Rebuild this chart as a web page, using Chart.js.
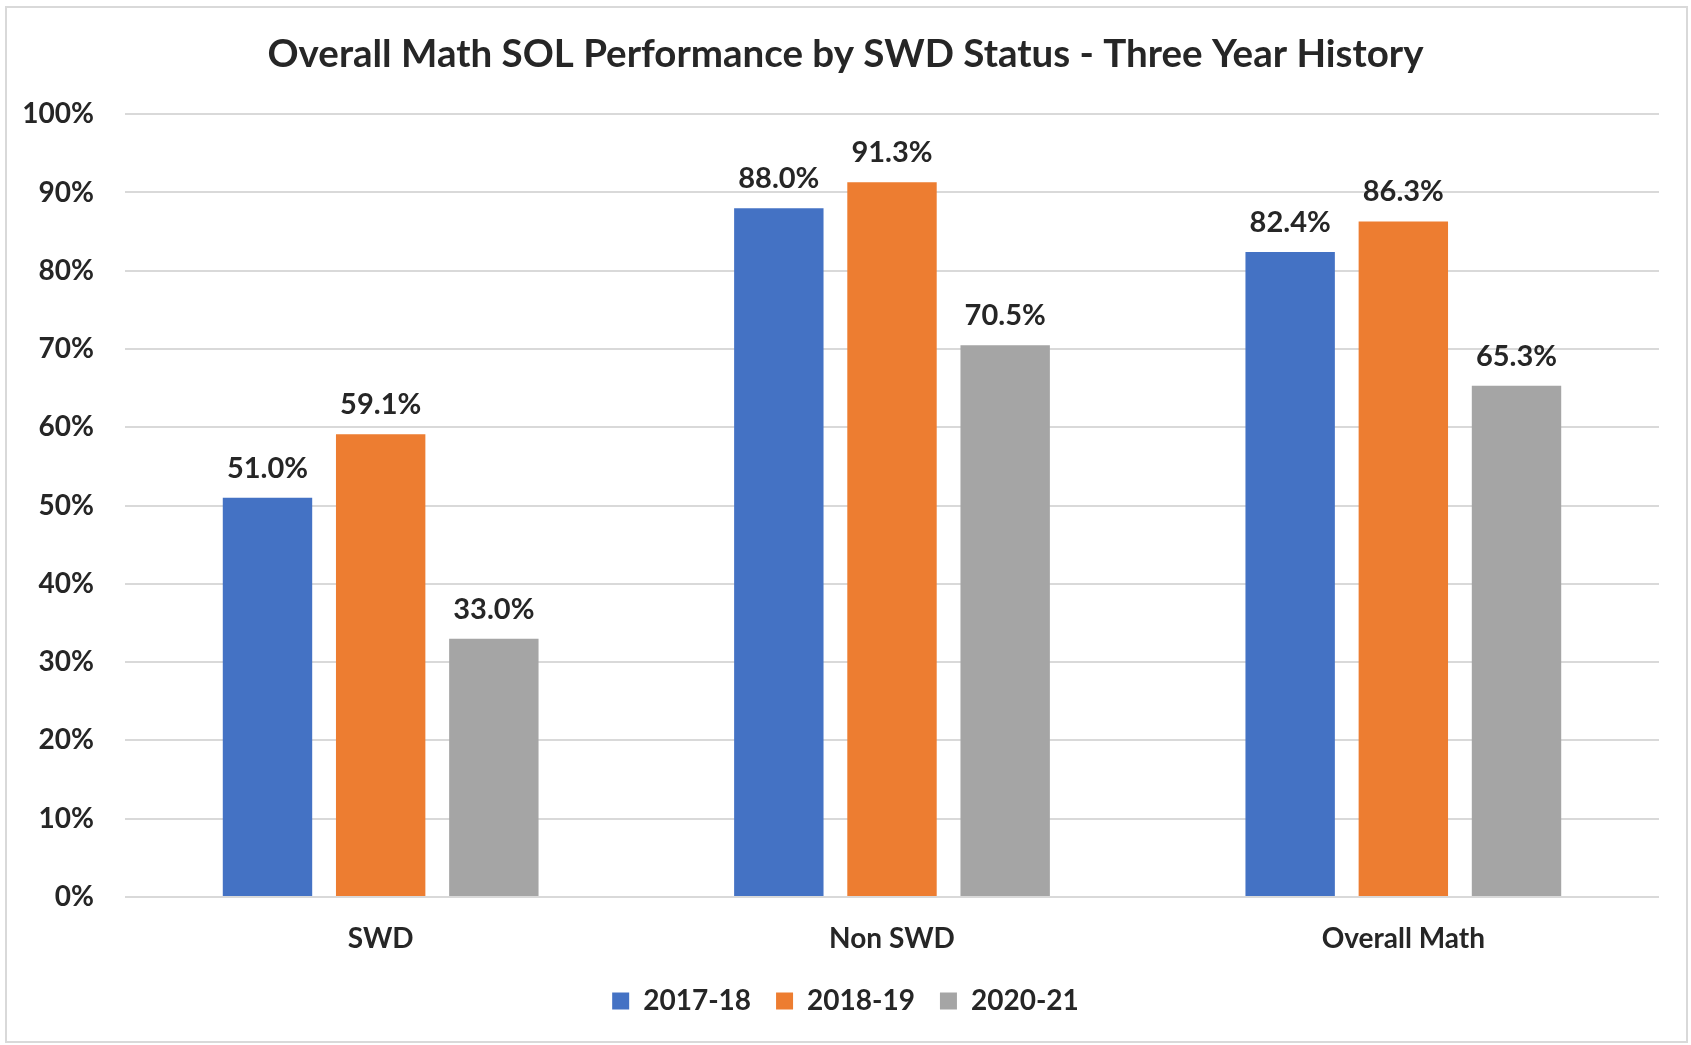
<!DOCTYPE html>
<html lang="en">
<head>
    <meta charset="UTF-8">
    <title>Overall Math SOL Performance by SWD Status</title>
    <script src="https://cdn.jsdelivr.net/npm/chart.js"></script>
    <style>
        html, body { margin: 0; padding: 0; background: #fff; }
        #wrap { width: 1691px; height: 1045px; }
    </style>
</head>
<body>
    <div id="wrap"><canvas id="solChart" width="1691" height="1045"></canvas></div>

    <script>
        // data
        const categories = ["SWD", "Non SWD", "Overall Math"];
        const years = ["2017-18", "2018-19", "2020-21"];
        const pct1718 = [51.0, 88.0, 82.4];
        const pct1819 = [59.1, 91.3, 86.3];
        const pct2021 = [33.0, 70.5, 65.3];
        const yTicks = [0, 10, 20, 30, 40, 50, 60, 70, 80, 90, 100];

        const colors = ["#4472C4", "#ED7D31", "#A5A5A5"];
        const textColor = "#262626";
        const fontFamily = "Lato, 'Open Sans', sans-serif";

        // white background + thin grey frame around the whole chart
        const framePlugin = {
            id: "frame",
            beforeDraw(chart) {
                const c = chart.ctx;
                c.save();
                c.fillStyle = "#fff";
                c.fillRect(0, 0, chart.width, chart.height);
                c.strokeStyle = "#d9d9d9";
                c.lineWidth = 2;
                c.strokeRect(6, 7, 1681, 1035);
                c.restore();
            }
        };

        // value labels above each bar
        const valueLabels = {
            id: "valueLabels",
            afterDatasetsDraw(chart) {
                const c = chart.ctx;
                c.save();
                c.font = "bold 29px " + fontFamily;
                c.fillStyle = textColor;
                c.textAlign = "center";
                c.textBaseline = "alphabetic";
                chart.data.datasets.forEach((ds, i) => {
                    chart.getDatasetMeta(i).data.forEach((bar, j) => {
                        c.fillText(ds.data[j].toFixed(1) + "%", bar.x, bar.y - 20);
                    });
                });
                c.restore();
            }
        };

        const ctx = document.getElementById("solChart").getContext("2d");
        const solChart = new Chart(ctx, {
            type: "bar",
            data: {
                labels: categories,
                datasets: [
                    { label: years[0], data: pct1718, backgroundColor: colors[0] },
                    { label: years[1], data: pct1819, backgroundColor: colors[1] },
                    { label: years[2], data: pct2021, backgroundColor: colors[2] }
                ]
            },
            options: {
                responsive: false,
                animation: false,
                devicePixelRatio: 1,
                layout: { padding: { left: 0, right: 0, top: 0, bottom: 20 } },
                datasets: {
                    bar: { categoryPercentage: 0.664, barPercentage: 0.79 }
                },
                plugins: {
                    title: {
                        display: true,
                        text: "Overall Math SOL Performance by SWD Status - Three Year History",
                        color: textColor,
                        font: { family: fontFamily, size: 38.5, weight: "bold" },
                        padding: { top: 31, bottom: 37 }
                    },
                    legend: {
                        position: "bottom",
                        labels: {
                            color: textColor,
                            font: { family: fontFamily, size: 28, weight: "bold" },
                            boxWidth: 17,
                            boxHeight: 17,
                            padding: 25
                        }
                    },
                    tooltip: { enabled: false }
                },
                scales: {
                    x: {
                        afterFit(scale) { scale.height = 65; },
                        grid: { display: false, drawTicks: false },
                        border: { display: false },
                        ticks: {
                            color: textColor,
                            font: { family: fontFamily, size: 28, weight: "bold" },
                            padding: 25
                        }
                    },
                    y: {
                        min: 0,
                        max: 100,
                        afterFit(scale) { scale.width = 125; },
                        afterBuildTicks(scale) { scale.ticks = yTicks.map(v => ({ value: v })); },
                        grid: { color: "#d9d9d9", lineWidth: 2, drawTicks: false },
                        border: { display: false },
                        ticks: {
                            color: textColor,
                            font: { family: fontFamily, size: 28, weight: "bold" },
                            padding: 31,
                            callback: v => v + "%"
                        }
                    },
                    // empty right margin so title and legend centre on the whole frame
                    yRight: {
                        position: "right",
                        afterFit(scale) { scale.width = 32; },
                        grid: { display: false, drawTicks: false },
                        border: { display: false },
                        ticks: { display: false }
                    }
                }
            },
            plugins: [framePlugin, valueLabels]
        });
    </script>
</body>
</html>
